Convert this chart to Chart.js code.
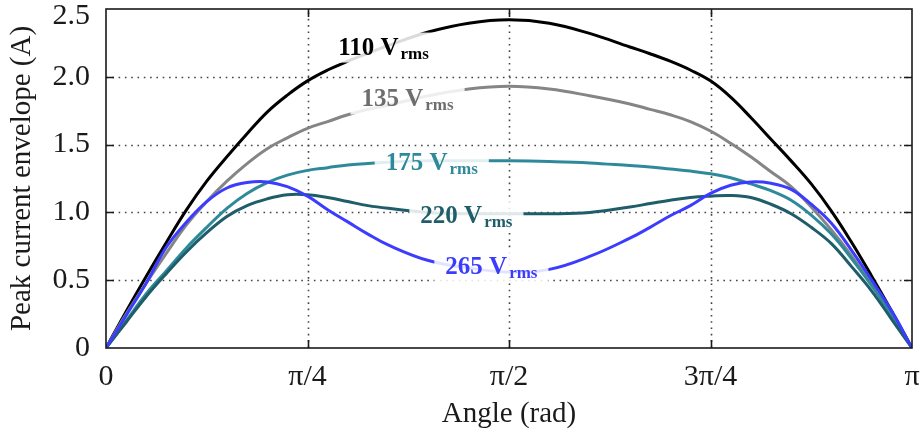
<!DOCTYPE html>
<html>
<head>
<meta charset="utf-8">
<script src="https://cdn.jsdelivr.net/npm/chart.js@4/dist/chart.umd.min.js"></script>
<style>
  html, body { margin: 0; padding: 0; background: #fff; }
  #wrap { width: 923px; height: 436px; }
</style>
</head>
<body>
<div id="wrap"><canvas id="c" width="923" height="436"></canvas></div>
<script>
// Angle expressed as a fraction of pi (0 … 1 → 0 … π)
const angleOverPi = [0, 0.025, 0.05, 0.075, 0.1, 0.125, 0.15, 0.175, 0.2, 0.225, 0.25, 0.275, 0.3, 0.325, 0.35,
  0.4, 0.45, 0.5, 0.55, 0.6,
  0.65, 0.675, 0.7, 0.725, 0.75, 0.775, 0.8, 0.825, 0.85, 0.875, 0.9, 0.925, 0.95, 0.975, 1];

// Peak current envelope (A) for each line voltage
const env110 = [0, 0.27, 0.53, 0.78, 1.02, 1.23, 1.41, 1.58, 1.74, 1.865, 1.97, 2.05, 2.115, 2.175, 2.23,
  2.33, 2.395, 2.42, 2.395, 2.32,
  2.22, 2.17, 2.115, 2.05, 1.97, 1.85, 1.70, 1.54, 1.38, 1.21, 1.01, 0.78, 0.53, 0.27, 0];
const env135 = [0, 0.25, 0.48, 0.70, 0.91, 1.08, 1.23, 1.36, 1.47, 1.55, 1.62, 1.67, 1.72, 1.76, 1.79,
  1.86, 1.91, 1.93, 1.91, 1.86,
  1.80, 1.76, 1.72, 1.67, 1.60, 1.51, 1.41, 1.30, 1.19, 1.04, 0.87, 0.68, 0.47, 0.24, 0];
const env175 = [0, 0.20, 0.40, 0.57, 0.74, 0.89, 1.03, 1.14, 1.22, 1.275, 1.31, 1.33, 1.35, 1.36, 1.37,
  1.38, 1.38, 1.38, 1.375, 1.365,
  1.345, 1.335, 1.32, 1.305, 1.285, 1.255, 1.21, 1.16, 1.09, 0.98, 0.84, 0.66, 0.46, 0.24, 0];
const env220 = [0, 0.19, 0.38, 0.55, 0.71, 0.85, 0.97, 1.05, 1.10, 1.13, 1.13, 1.11, 1.08, 1.05, 1.03,
  1.00, 0.99, 0.99, 0.99, 1.00,
  1.04, 1.065, 1.09, 1.11, 1.12, 1.125, 1.11, 1.06, 0.99, 0.89, 0.77, 0.60, 0.42, 0.21, 0];
const env265 = [0, 0.24, 0.48, 0.745, 0.93, 1.08, 1.18, 1.22, 1.225, 1.19, 1.12, 1.02, 0.93, 0.84, 0.76,
  0.645, 0.59, 0.56, 0.58, 0.675,
  0.81, 0.89, 0.975, 1.05, 1.14, 1.20, 1.225, 1.215, 1.17, 1.06, 0.92, 0.72, 0.50, 0.27, 0];

const xTickLabels = ['0', 'π/4', 'π/2', '3π/4', 'π'];
// the top label sits a little lower so it stays inside the canvas
const yTickLabels = ['0', '0.5', '1.0', '1.5', '2.0', ['', '2.5']];

const seriesColors = ['#000000', '#858585', '#2e8a9a', '#1f5d69', '#3c3cff'];
const labelColors  = ['#000000', '#6e6e6e', '#2e8a9a', '#1f5d69', '#3c3cff'];

// In-plot curve labels: left edge (fraction of π) and text baseline (A)
const curveLabels = [
  { text: '110 V', sub: 'rms', x: 0.288, y: 2.164 },
  { text: '135 V', sub: 'rms', x: 0.317, y: 1.781 },
  { text: '175 V', sub: 'rms', x: 0.347, y: 1.313 },
  { text: '220 V', sub: 'rms', x: 0.390, y: 0.920 },
  { text: '265 V', sub: 'rms', x: 0.421, y: 0.546 }
];

const SERIF = '"Liberation Serif", "Times New Roman", serif';
const seriesValues = [env110, env135, env175, env220, env265];

const datasets = seriesValues.map((vals, i) => ({
  label: curveLabels[i].text + curveLabels[i].sub,
  data: angleOverPi.map((a, k) => ({ x: a, y: vals[k] })),
  borderColor: seriesColors[i],
  backgroundColor: seriesColors[i],
  borderWidth: 3,
  pointRadius: 0,
  tension: 0.4,
  fill: false,
  order: 5 - i
}));

// Dotted grid, drawn under the curves
const gridPlugin = {
  id: 'dottedGrid',
  beforeDatasetsDraw(chart) {
    const { ctx, chartArea: a, scales: { x, y } } = chart;
    ctx.save();
    ctx.strokeStyle = '#444';
    ctx.lineWidth = 1.6;
    ctx.setLineDash([1.6, 4.7]);
    [0.25, 0.5, 0.75].forEach(v => {
      const px = Math.round(x.getPixelForValue(v)) + 0.5;
      ctx.beginPath(); ctx.moveTo(px, a.bottom); ctx.lineTo(px, a.top); ctx.stroke();
    });
    [0.5, 1.0, 1.5, 2.0].forEach(v => {
      const py = Math.round(y.getPixelForValue(v)) + 0.5;
      ctx.beginPath(); ctx.moveTo(a.left, py); ctx.lineTo(a.right, py); ctx.stroke();
    });
    ctx.restore();
  }
};

// Frame with inward tick marks, and the voltage labels on white patches
const framePlugin = {
  id: 'frameAndLabels',
  afterDatasetsDraw(chart) {
    const { ctx, chartArea: a, scales: { x, y } } = chart;
    ctx.save();
    curveLabels.forEach((lab, i) => {
      const left = x.getPixelForValue(lab.x);
      const base = y.getPixelForValue(lab.y);
      ctx.font = 'bold 25px ' + SERIF;
      const w1 = ctx.measureText(lab.text).width;
      ctx.font = 'bold 17px ' + SERIF;
      const w2 = ctx.measureText(lab.sub).width;
      const total = w1 + 2 + w2;
      ctx.fillStyle = 'rgba(255,255,255,0.86)';
      ctx.fillRect(left - 11, base - 22, total + 22, 30);
      ctx.fillStyle = labelColors[i];
      ctx.textBaseline = 'alphabetic';
      ctx.textAlign = 'left';
      ctx.font = 'bold 25px ' + SERIF;
      ctx.fillText(lab.text, left, base);
      ctx.font = 'bold 17px ' + SERIF;
      ctx.fillText(lab.sub, left + w1 + 2, base + 4);
    });

    ctx.strokeStyle = '#1a1a1a';
    ctx.lineWidth = 1.6;
    ctx.setLineDash([]);
    ctx.strokeRect(a.left, a.top, a.right - a.left, a.bottom - a.top);
    const tl = 8;
    ctx.beginPath();
    [0.25, 0.5, 0.75].forEach(v => {
      const px = Math.round(x.getPixelForValue(v)) + 0.5;
      ctx.moveTo(px, a.bottom); ctx.lineTo(px, a.bottom - tl);
      ctx.moveTo(px, a.top); ctx.lineTo(px, a.top + tl);
    });
    [0.5, 1.0, 1.5, 2.0].forEach(v => {
      const py = Math.round(y.getPixelForValue(v)) + 0.5;
      ctx.moveTo(a.left, py); ctx.lineTo(a.left + tl, py);
      ctx.moveTo(a.right, py); ctx.lineTo(a.right - tl, py);
    });
    ctx.stroke();
    ctx.restore();
  }
};

// Axis boxes have fixed sizes; label overflow must not shrink the plot area
function fixBox(s, w, h) {
  if (w !== null) s.width = w;
  if (h !== null) s.height = h;
  s.paddingTop = 0; s.paddingBottom = 0; s.paddingLeft = 0; s.paddingRight = 0;
}

new Chart(document.getElementById('c'), {
  type: 'line',
  data: { datasets },
  options: {
    responsive: false,
    animation: false,
    devicePixelRatio: 1,
    layout: { autoPadding: false, padding: { top: 9, right: 11, left: 0, bottom: 0 } },
    plugins: { legend: { display: false }, tooltip: { enabled: false } },
    scales: {
      x: {
        type: 'linear',
        min: 0, max: 1,
        afterFit(s) { fixBox(s, null, 88); },
        afterBuildTicks(s) { s.ticks = [0, 0.25, 0.5, 0.75, 1].map(v => ({ value: v })); },
        grid: { display: false, drawTicks: false },
        border: { display: false },
        ticks: {
          padding: 11,
          color: '#1a1a1a',
          font: { family: SERIF, size: 30, lineHeight: 1.2 },
          maxRotation: 0,
          callback: (v, i) => xTickLabels[i]
        },
        title: {
          display: true,
          text: 'Angle (rad)',
          color: '#1a1a1a',
          font: { family: SERIF, size: 29, lineHeight: 1.2 },
          padding: { top: 0, bottom: 4 }
        }
      },
      y: {
        min: 0, max: 2.5,
        afterFit(s) { fixBox(s, 106, null); },
        afterBuildTicks(s) { s.ticks = [0, 0.5, 1, 1.5, 2, 2.5].map(v => ({ value: v })); },
        grid: { display: false, drawTicks: false },
        border: { display: false },
        ticks: {
          padding: 16,
          color: '#1a1a1a',
          font: { family: SERIF, size: 30, lineHeight: 0.47 },
          callback: (v, i) => yTickLabels[i]
        },
        title: {
          display: true,
          text: 'Peak current envelope (A)',
          color: '#1a1a1a',
          font: { family: SERIF, size: 29, lineHeight: 1.2 },
          padding: { top: 5, bottom: 0 }
        }
      }
    }
  },
  plugins: [gridPlugin, framePlugin]
});
</script>
</body>
</html>
